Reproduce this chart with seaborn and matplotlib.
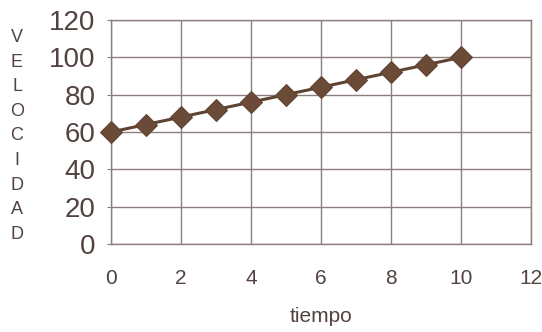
import matplotlib
matplotlib.use("Agg")
import matplotlib.pyplot as plt
import seaborn as sns
import pandas as pd

tiempo = [0, 1, 2, 3, 4, 5, 6, 7, 8, 9, 10]
velocidad = [60, 64, 68, 72, 76, 80, 84, 88, 92, 96, 100]
x_ticks = [0, 2, 4, 6, 8, 10, 12]
y_ticks = [0, 20, 40, 60, 80, 100, 120]

sns.set_style("white")
plt.rcParams['font.family'] = ['Liberation Sans', 'DejaVu Sans']

df = pd.DataFrame({"tiempo": tiempo, "velocidad": velocidad})

fig = plt.figure(figsize=(5.42, 3.32), dpi=100)
ax = fig.add_axes([111/542, 88/332, 420/542, 224/332])

grid_c = "#8c7e7c"
line_c = "#5e4232"
text_c = "#524240"

sns.lineplot(data=df, x="tiempo", y="velocidad", ax=ax, color=line_c,
             linewidth=2.2, marker="D", markersize=11, markeredgecolor=line_c,
             markerfacecolor="#6b4a38", zorder=3, clip_on=False)

ax.set_xlim(0, 12)
ax.set_ylim(0, 120)
ax.set_xticks(x_ticks)
ax.set_yticks(y_ticks)
ax.grid(True, color=grid_c, linewidth=1.0)
for s in ax.spines.values():
    s.set_color(grid_c)
    s.set_linewidth(1.0)

ax.tick_params(axis='y', labelsize=20, colors=grid_c, labelcolor=text_c,
               length=3, pad=8, left=True)
ax.tick_params(axis='x', labelsize=15, labelcolor=text_c, length=0, pad=18)

ax.set_xlabel("tiempo", fontsize=15, color=text_c, labelpad=14)
ax.set_ylabel("")
fig.text(17/542, 1 - 136/332, "\n".join("VELOCIDAD"), fontsize=13,
         color=text_c, ha="center", va="center", linespacing=1.58)

fig.savefig("out.png", dpi=100)
